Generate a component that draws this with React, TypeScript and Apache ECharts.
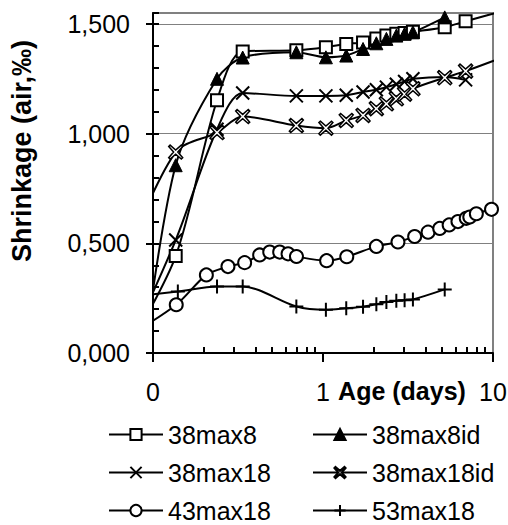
import React, { useEffect, useRef } from 'react';
import * as echarts from 'echarts';

// Ages (days) and shrinkage values
const ages38max8 = [0.07, 0.136, 0.238, 0.337, 0.697, 1.04, 1.37, 1.72, 2.06, 2.36, 2.7, 3.02, 3.38, 5.2, 6.9, 14];
const vals38max8 = [0.01, 0.442, 1.152, 1.375, 1.38, 1.394, 1.409, 1.416, 1.434, 1.447, 1.455, 1.459, 1.464, 1.485, 1.512, 1.578];

const ages38max8id = [0.09, 0.136, 0.238, 0.337, 0.697, 1.04, 1.37, 1.72, 2.06, 2.36, 2.7, 3.02, 3.38, 5.2];
const vals38max8id = [0.03, 0.856, 1.25, 1.347, 1.371, 1.348, 1.356, 1.386, 1.412, 1.432, 1.447, 1.455, 1.462, 1.53];

const ages38max18 = [0.07, 0.136, 0.238, 0.337, 0.697, 1.04, 1.37, 1.72, 2.06, 2.36, 2.7, 3.02, 3.38, 5.2, 6.9];
const vals38max18 = [0.014, 0.515, 1.02, 1.185, 1.172, 1.172, 1.175, 1.19, 1.2, 1.212, 1.225, 1.238, 1.25, 1.258, 1.245];

const ages38max18id = [0.07, 0.136, 0.238, 0.337, 0.697, 1.04, 1.37, 1.72, 2.06, 2.36, 2.7, 3.02, 3.38, 5.2, 6.9, 14];
const vals38max18id = [0.45, 0.916, 1.005, 1.078, 1.037, 1.025, 1.06, 1.083, 1.114, 1.136, 1.159, 1.18, 1.205, 1.255, 1.285, 1.374];

const ages43max18 = [0.07, 0.137, 0.206, 0.276, 0.346, 0.424, 0.486, 0.556, 0.623, 0.698, 1.05, 1.38, 2.06, 2.76, 3.46, 4.15, 4.86, 5.52, 6.22, 6.96, 7.3, 7.98, 9.8];
const vals43max18 = [0.073, 0.22, 0.356, 0.394, 0.412, 0.447, 0.46, 0.46, 0.452, 0.44, 0.421, 0.439, 0.486, 0.506, 0.531, 0.551, 0.568, 0.584, 0.599, 0.614, 0.62, 0.635, 0.655];

const ages53max18 = [0.07, 0.14, 0.238, 0.337, 0.697, 1.04, 1.37, 1.72, 2.06, 2.36, 2.7, 3.02, 3.38, 5.2];
const vals53max18 = [0.255, 0.28, 0.303, 0.303, 0.212, 0.197, 0.204, 0.211, 0.222, 0.233, 0.238, 0.241, 0.244, 0.29];

// legend layout: [left column, right column] per row
const legendRows = [
  ['38max8', '38max8id'],
  ['38max18', '38max18id'],
  ['43max18', '53max18'],
];

const xMinorTicks = [0.2, 0.3, 0.4, 0.5, 0.6, 0.7, 0.8, 0.9, 2, 3, 4, 5, 6, 7, 8, 9];
const yMajorTicks = [0, 0.5, 1, 1.5];
const yMinorStep = 0.1;
const yMin = 0;
const yMax = 1.55;
const xMin = 0.1;
const xMax = 10;

const FONT = '"Liberation Sans", Arial, Helvetica, sans-serif';

const pairs = (a: number[], v: number[]) => a.map((t, i) => [t, v[i]]);

const X_PATH = 'path://M0,0L10,10M10,0L0,10';
const PLUS_PATH = 'path://M5,0L5,10M0,5L10,5';
const STAR_PATH = 'path://M1,0L5,3.5L9,0L10,1L6.5,5L10,9L9,10L5,6.5L1,10L0,9L3.5,5L0,1Z';

export default function App() {
  const ref = useRef<HTMLDivElement>(null);
  useEffect(() => {
    const chart = echarts.init(ref.current!, null, { renderer: 'svg' });
    const line = { color: '#000', width: 2 };
    const hollow = { color: '#fff', borderColor: '#000', borderWidth: 2 };
    const base = {
      type: 'line',
      smooth: 0.3,
      clip: true,
      lineStyle: line,
      showAllSymbol: true,
    };
    const legendCols = [108, 312];
    const legendTops = [422, 460, 498];
    const legends: any[] = [];
    legendRows.forEach((row, r) => {
      row.forEach((name, c) => {
        legends.push({
          data: [name],
          orient: 'horizontal',
          left: legendCols[c],
          top: legendTops[r],
          itemWidth: 54,
          itemHeight: 14,
          padding: 0,
          textStyle: { fontSize: 25, color: '#000', fontFamily: FONT },
        });
      });
    });
    const gridRect = { left: 153, right: 15, top: 13, bottom: 172 };
    const option: any = {
      animation: false,
      backgroundColor: '#fff',
      grid: [
        {
          ...gridRect,
          show: true,
          borderColor: '#808080',
          borderWidth: 2,
          outerBoundsMode: 'none',
        },
        { ...gridRect, show: false, outerBoundsMode: 'none' },
      ],
      xAxis: [
        {
          type: 'log',
          gridIndex: 0,
          logBase: 10,
          min: xMin,
          max: xMax,
          position: 'bottom',
          axisLine: { show: true, onZero: false, lineStyle: { color: '#000', width: 2 } },
          axisTick: { show: true, length: 9, lineStyle: { color: '#000', width: 2 } },
          axisLabel: {
            formatter: (v: number) => (v < 0.5 ? '0' : String(Math.round(v))),
            margin: 26,
            fontSize: 25,
            color: '#000',
            fontFamily: FONT,
          },
          splitLine: { show: false },
        },
        {
          type: 'value',
          gridIndex: 1,
          min: Math.log10(xMin),
          max: Math.log10(xMax),
          position: 'bottom',
          axisLine: { show: false, onZero: false },
          axisTick: {
            show: true,
            inside: true,
            length: 6,
            customValues: xMinorTicks.map((t) => Math.log10(t)),
            lineStyle: { color: '#000', width: 2 },
          },
          axisLabel: { show: false },
          splitLine: { show: false },
        },
      ],
      yAxis: [
        {
          type: 'value',
          gridIndex: 0,
          min: yMin,
          max: yMax,
          interval: 0.5,
          position: 'left',
          axisLine: { show: true, onZero: false, lineStyle: { color: '#000', width: 2 } },
          axisTick: { show: true, length: 7, customValues: yMajorTicks, lineStyle: { color: '#000', width: 2 } },
          axisLabel: {
            customValues: yMajorTicks,
            formatter: (v: number) => (Math.abs(v - yMax) < 1e-6 ? '' : v.toFixed(3).replace('.', ',')),
            margin: 23,
            fontSize: 25,
            color: '#000',
            fontFamily: FONT,
          },
          splitLine: { show: true, lineStyle: { color: '#808080', width: 1 } },
        },
        {
          type: 'value',
          gridIndex: 1,
          min: yMin,
          max: yMax,
          interval: yMinorStep,
          position: 'left',
          axisLine: { show: false, onZero: false },
          axisTick: { show: true, inside: true, length: 6, lineStyle: { color: '#000', width: 2 } },
          axisLabel: { show: false },
          splitLine: { show: false },
        },
      ],
      legend: legends,
      graphic: [
        {
          type: 'text',
          x: 22,
          y: 151,
          rotation: Math.PI / 2,
          style: {
            text: 'Shrinkage (air,‰)',
            fontSize: 27,
            fontWeight: 'bold',
            fontFamily: FONT,
            fill: '#000',
            align: 'center',
            verticalAlign: 'middle',
          },
        },
        {
          type: 'text',
          x: 402,
          y: 391,
          style: {
            text: 'Age (days)',
            fontSize: 25,
            fontWeight: 'bold',
            fontFamily: FONT,
            fill: '#000',
            align: 'center',
            verticalAlign: 'middle',
          },
        },
      ],
      series: [
        {
          ...base,
          name: '38max8',
          symbol: 'rect',
          symbolSize: 12,
          itemStyle: hollow,
          data: pairs(ages38max8, vals38max8),
        },
        {
          ...base,
          name: '38max8id',
          symbol: 'triangle',
          symbolSize: 13,
          itemStyle: { color: '#000', borderColor: '#000', borderWidth: 1 },
          data: pairs(ages38max8id, vals38max8id),
        },
        {
          ...base,
          name: '38max18',
          symbol: X_PATH,
          symbolSize: 13,
          itemStyle: { color: '#fff', borderColor: '#000', borderWidth: 2 },
          data: pairs(ages38max18, vals38max18),
        },
        {
          ...base,
          name: '38max18id',
          symbol: STAR_PATH,
          symbolSize: 14,
          itemStyle: { color: '#fff', borderColor: '#000', borderWidth: 1.5 },
          data: pairs(ages38max18id, vals38max18id),
        },
        {
          ...base,
          name: '43max18',
          symbol: 'circle',
          symbolSize: 13,
          itemStyle: hollow,
          data: pairs(ages43max18, vals43max18),
        },
        {
          ...base,
          name: '53max18',
          symbol: PLUS_PATH,
          symbolSize: 14,
          itemStyle: { color: '#fff', borderColor: '#000', borderWidth: 2 },
          data: pairs(ages53max18, vals53max18),
        },
      ],
    };
    chart.setOption(option);
    return () => chart.dispose();
  }, []);
  return <div ref={ref} style={{ position: 'fixed', left: 0, top: 0, width: 508, height: 525 }} />;
}
